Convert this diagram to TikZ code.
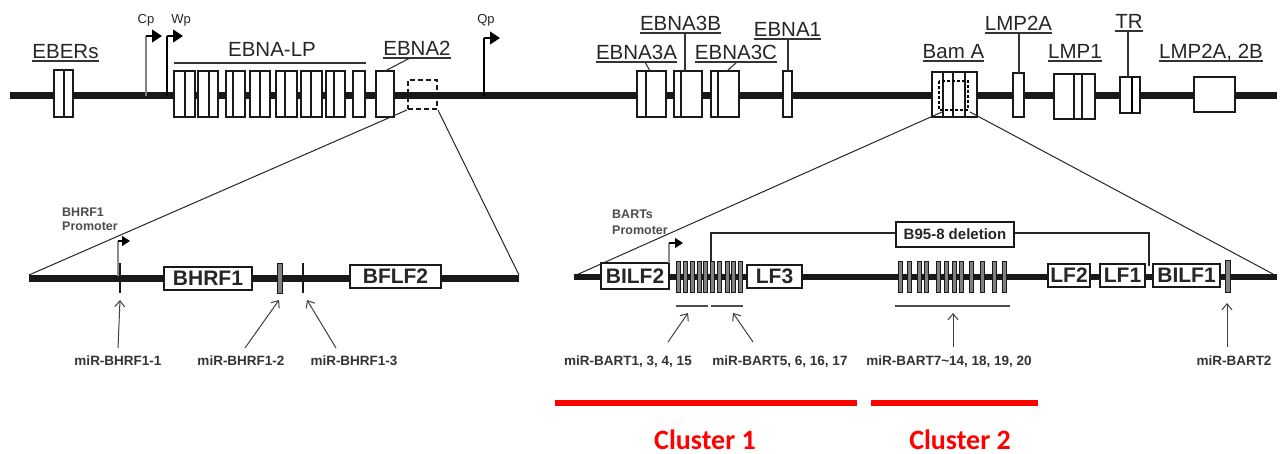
\documentclass[tikz,border=0pt]{standalone}
\usepackage{fontspec}
\setmainfont{Liberation Sans}
\newfontfamily\clusterfont{Carlito}
\usetikzlibrary{arrows.meta,fit}
\newcommand\ulab[4]{\node[toplab] (#1) at (#2,#3) {#4};
  \draw[ul] ([yshift=-2pt]#1.base west) -- ([yshift=-2pt]#1.base east);}
\begin{document}
\begin{tikzpicture}[x=1pt,y=-1pt,
  gline/.style={line width=7pt, black!90},
  gbox/.style={draw=black!90, fill=white, line width=1.2pt, inner sep=0pt},
  div/.style={line width=1.1pt, black!90},
  toplab/.style={font=\fontsize{20.5}{21}\selectfont, anchor=base, inner sep=0pt, text=black!85},
  ul/.style={line width=1.1pt, black!80},
  prom/.style={line width=1.2pt, -{Triangle[length=10pt,width=13pt]}},
  promsm/.style={line width=1.2pt, -{Triangle[length=8pt,width=10pt]}},
  smlab/.style={font=\bfseries\fontsize{12.5}{13}\selectfont, anchor=base west, inner sep=0pt, text=black!70},
  plab/.style={font=\fontsize{13}{13}\selectfont, anchor=base, inner sep=0pt, text=black!85},
  lowbox/.style={draw=black!90, fill=white, line width=1.3pt, font=\bfseries\fontsize{21}{21}\selectfont, inner sep=0pt, text=black!85},
  mirbar/.style={draw=black!90, fill=black!50, line width=0.9pt, inner sep=0pt},
  mirlab/.style={font=\bfseries\fontsize{13.5}{14}\selectfont, anchor=base, inner sep=0pt, text=black!80},
  mirarr/.style={line width=1pt, black!75, -{Straight Barb[length=6pt,width=10pt]}},
  zl/.style={line width=1pt, black!85},
  redbar/.style={line width=5.5pt, red},
  clus/.style={font=\clusterfont\bfseries\fontsize{28}{30}\selectfont, text=red, inner sep=0pt, anchor=base}
]
\fill[white] (0,0) rectangle (1283,454);
\useasboundingbox (0,0) rectangle (1283,454);

% ---------------- top genome ----------------
\coordinate (tl) at (10,96);
\coordinate (tr) at (1277,96);
\draw[gline] (tl) -- (tr);

% EBERs
\node[gbox, fit={(54,70) (73,117)}] (eber) {};
\draw[div] (64,70) -- (64,117);
\ulab{lEBER}{65.5}{59}{EBERs}

% promoters Cp, Wp
\coordinate (cpb) at (146,96); \coordinate (cpt) at (146,36); \coordinate (cpe) at (162,36);
\draw[line width=1.2pt, black!50] (cpb) -- (cpt);
\draw[prom] (cpt) -- (cpe);
\node[plab] (lcp) at (146,24) {Cp};
\coordinate (wpb) at (167,96); \coordinate (wpt) at (167,36); \coordinate (wpe) at (183,36);
\draw[line width=1.2pt] (wpb) -- (wpt);
\draw[prom] (wpt) -- (wpe);
\node[plab] (lwp) at (181,24) {Wp};

% EBNA-LP
\foreach \i/\a/\b/\c in {1/174/195/185, 2/198/218/209, 3/226/245/233, 4/250/270/260,
                         5/276/297/285, 6/301/322/311, 7/326/345/334}{
  \node[gbox, fit={(\a,71) (\b,117)}] (lp\i) {};
  \draw[div] (\c,71) -- (\c,117);
}
\node[gbox, fit={(353,71) (365,117)}] (lp8) {};
\draw[ul] (174,63) -- (366,63);
\node[toplab] (lLP) at (272,57) {EBNA-LP};

% EBNA2
\node[gbox, fit={(376,71) (394,117)}] (ebna2) {};
\ulab{lE2}{417}{56}{EBNA2}
\coordinate (e2a) at (410,58); \coordinate (e2b) at (385,71);
\draw[ul] (e2a) -- (e2b);

% dashed zoom box
\node[draw=black!90, line width=1.8pt, dash pattern=on 5pt off 3pt, inner sep=0pt,
      fit={(408,80) (437,109)}] (dbox) {};

% Qp
\coordinate (qpb) at (484,96); \coordinate (qpt) at (484,38); \coordinate (qpe) at (500,38);
\draw[line width=1.2pt] (qpb) -- (qpt);
\draw[prom] (qpt) -- (qpe);
\node[plab] (lqp) at (486,24) {Qp};

% EBNA3A/3B/3C, EBNA1
\node[gbox, fit={(637,71) (666,117)}] (e3a) {}; \draw[div] (646,71) -- (646,117);
\node[gbox, fit={(674,71) (702,117)}] (e3b) {}; \draw[div] (681,71) -- (681,117);
\node[gbox, fit={(711,71) (739,117)}] (e3c) {}; \draw[div] (718,71) -- (718,117);
\node[gbox, fit={(783,71) (792,117)}] (e1) {};
\ulab{lE3A}{636.5}{60}{EBNA3A}
\ulab{lE3B}{680.5}{31}{EBNA3B}
\ulab{lE3C}{736}{60}{EBNA3C}
\ulab{lE1}{787.5}{37}{EBNA1}
\draw[ul] (645,62) -- (650,71);
\draw[ul] (685,33) -- (685,71);
\draw[ul] (737,62) -- (727,71);
\draw[ul] (788,39) -- (788,71);

% Bam A
\node[gbox, fit={(932,72) (977,117)}] (bama) {};
\foreach \x in {943,953,965} \draw[div] (\x,72) -- (\x,117);
\draw[line width=2pt, dash pattern=on 3pt off 2pt] (939,81) rectangle (968,110);
\ulab{lBam}{953.5}{59}{Bam A}

% LMP2A
\node[gbox, fit={(1013,73) (1024,117)}] (lmp2a) {};
\ulab{lL2A}{1018.5}{31}{LMP2A}
\draw[ul] (1019,33) -- (1019,73);

% LMP1
\node[gbox, fit={(1054,74) (1095,119)}] (lmp1) {};
\draw[div] (1074,74) -- (1074,119);
\draw[div] (1082,74) -- (1082,119);
\ulab{lL1}{1075}{59}{LMP1}

% TR
\node[gbox, fit={(1120,77) (1140,113)}] (tr) {};
\draw[line width=2.5pt] (1132,77) -- (1132,113);
\ulab{lTR}{1129}{29}{TR}
\draw[ul] (1128,31) -- (1128,77);

% LMP2A, 2B
\node[gbox, fit={(1194,77) (1235,112)}] (lmp2b) {};
\ulab{lL2B}{1211}{59}{LMP2A, 2B}

% ---------------- zoom lines ----------------
\coordinate (ll) at (29,275);
\coordinate (lr) at (519,275);
\draw[zl] (dbox.south west) -- (ll);
\draw[zl] (dbox.south east) -- (lr);
\coordinate (bz1) at (942,112);
\coordinate (bz2) at (970,112);
\coordinate (rl) at (574,276);
\coordinate (rr) at (1273,274);
\draw[zl] (bz1) -- (rl);
\draw[zl] (bz2) -- (rr);

% ---------------- lower left (BHRF1) ----------------
\coordinate (l0) at (29,279); \coordinate (l1) at (519,279);
\draw[gline] (l0) -- (l1);
\coordinate (bp0) at (118,276); \coordinate (bp1) at (118,241); \coordinate (bp2) at (130,241);
\draw[line width=1.2pt, black!45] (bp0) -- (bp1);
\draw[promsm] (bp1) -- (bp2);
\node[smlab] (lbp1) at (62,217) {BHRF1};
\node[smlab] (lbp2) at (62,231) {Promoter};
\coordinate (t1a) at (120,263); \coordinate (t1b) at (120,293);
\draw[line width=2.5pt, black!90] (t1a) -- (t1b);
\node[lowbox, minimum width=88pt, minimum height=23pt] (bhrf1) at (208,278.5) {BHRF1};
\node[mirbar, fit={(277,263) (282,293)}] (t2) {};
\coordinate (t3a) at (303,263); \coordinate (t3b) at (303,293);
\draw[line width=2.5pt, black!90] (t3a) -- (t3b);
\node[lowbox, minimum width=91pt, minimum height=23pt] (bflf2) at (395.5,276.5) {BFLF2};

\node[mirlab] (m1) at (118,366) {miR-BHRF1-1};
\node[mirlab] (m2) at (241,366) {miR-BHRF1-2};
\node[mirlab] (m3) at (354,366) {miR-BHRF1-3};
\draw[mirarr] (118,348) -- (t1b |- 0,300);
\draw[mirarr] (245,348) -- (279,300);
\draw[mirarr] (336,348) -- (307,300);

% ---------------- lower right (BARTs) ----------------
\coordinate (r0) at (574,277); \coordinate (r1) at (1277,277);
\draw[line width=6pt, black!90] (r0) -- (r1);

% deletion bracket
\coordinate (d0) at (711,261); \coordinate (d1) at (711,233);
\coordinate (d2) at (1149,233); \coordinate (d3) at (1149,266);
\draw[line width=1.2pt, black!85] (d0) -- (d1) -- (d2) -- (d3);
\node[draw=black!90, fill=white, line width=1.3pt, inner sep=0pt, minimum width=118pt,
      minimum height=25pt, font=\bfseries\fontsize{15}{15}\selectfont, text=black!85]
      (del) at (955,234.5) {B95-8 deletion};

\node[lowbox, minimum width=68pt, minimum height=26pt] (bilf2) at (635,276) {BILF2};
\coordinate (pp0) at (669,263); \coordinate (pp1) at (669,243); \coordinate (pp2) at (683,243);
\draw[line width=1.2pt, black!45] (pp0) -- (pp1);
\draw[promsm] (pp1) -- (pp2);
\node[smlab] (lpp1) at (612,219) {BARTs};
\node[smlab] (lpp2) at (612,235) {Promoter};

\foreach \x [count=\i] in {678,685,692,699,705,712,719,727,733,740}
  \node[mirbar, minimum width=4pt, minimum height=31pt] (ca\i) at (\x,276.5) {};
\node[lowbox, minimum width=55pt, minimum height=23pt] (lf3) at (774.5,276.5) {LF3};
\foreach \x [count=\i] in {900,909,919,926,938,946,954,961,971,982,994,1004}
  \node[mirbar, minimum width=4pt, minimum height=31pt] (cb\i) at (\x,276.5) {};
\node[lowbox, minimum width=42pt, minimum height=23pt] (lf2) at (1069,275.5) {LF2};
\node[lowbox, minimum width=45pt, minimum height=23pt] (lf1) at (1122.5,275.5) {LF1};
\node[lowbox, minimum width=67pt, minimum height=23pt] (bilf1) at (1186.5,275.5) {BILF1};
\node[mirbar, fit={(1225,260) (1230,292)}] (b2) {};

% under-bars
\draw[line width=1.3pt, black!70] (676,306) -- (708,306);
\draw[line width=1.3pt, black!70] (711,306) -- (743,306);
\draw[line width=1.3pt, black!70] (895,306) -- (1010,306);

\node[mirlab] (n1) at (628,366) {miR-BART1, 3, 4, 15};
\node[mirlab] (n2) at (780,366) {miR-BART5, 6, 16, 17};
\node[mirlab] (n3) at (949,366) {miR-BART7\textasciitilde 14, 18, 19, 20};
\node[mirlab] (n4) at (1234,366) {miR-BART2};
\draw[mirarr] (668,342) -- (688,313);
\draw[mirarr] (753,342) -- (733,313);
\draw[mirarr] (953,347) -- (953,313);
\draw[mirarr] (1227,347) -- (1227,303);

% ---------------- clusters ----------------
\coordinate (c1a) at (555,403); \coordinate (c1b) at (857,403);
\coordinate (c2a) at (871,403); \coordinate (c2b) at (1038,403);
\draw[redbar] (c1a) -- (c1b);
\draw[redbar] (c2a) -- (c2b);
\node[clus] (cl1) at (705,449) {Cluster 1};
\node[clus] (cl2) at (960,449) {Cluster 2};
\end{tikzpicture}
\end{document}
